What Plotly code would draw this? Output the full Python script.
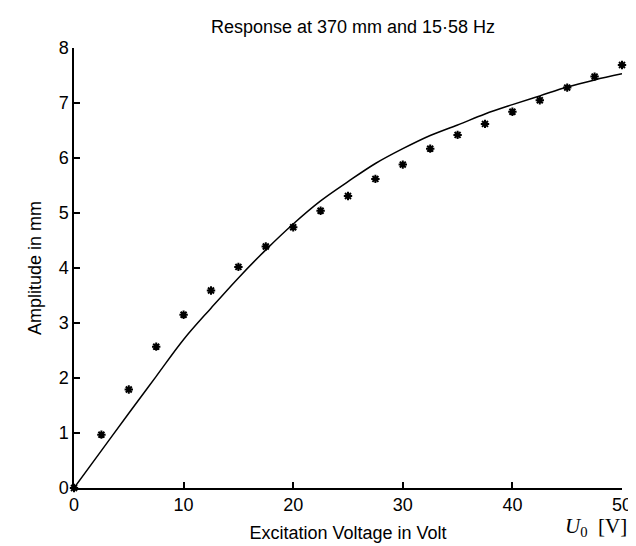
import plotly.graph_objects as go

# Measured points (asterisks)
meas_x = [0, 2.5, 5, 7.5, 10, 12.5, 15, 17.5, 20, 22.5, 25, 27.5, 30, 32.5, 35,
          37.5, 40, 42.5, 45, 47.5, 50]
meas_y = [0, 0.97, 1.79, 2.57, 3.15, 3.59, 4.02, 4.39, 4.74, 5.04, 5.31, 5.62,
          5.88, 6.17, 6.42, 6.62, 6.84, 7.05, 7.28, 7.48, 7.69]

# Model curve (solid line)
curve_x = [0, 2.5, 5, 7.5, 10, 12.5, 15, 17.5, 20, 22.5, 25, 27.5, 30, 32.5, 35,
           37.5, 40, 42.5, 45, 47.5, 50]
curve_y = [0, 0.68, 1.36, 2.03, 2.70, 3.27, 3.82, 4.33, 4.80, 5.22, 5.57, 5.90,
           6.17, 6.41, 6.60, 6.80, 6.97, 7.13, 7.29, 7.42, 7.53]

x_ticks = [0, 10, 20, 30, 40, 50]
y_ticks = [0, 1, 2, 3, 4, 5, 6, 7, 8]

FONT = "Liberation Sans, Arial, sans-serif"
FS = 18

fig = go.Figure()
fig.add_trace(go.Scatter(x=curve_x, y=curve_y, mode="lines",
                         line=dict(color="black", width=1.5, shape="spline"),
                         showlegend=False, cliponaxis=False))
fig.add_trace(go.Scatter(x=meas_x, y=meas_y, mode="markers",
                         marker=dict(symbol="asterisk", size=7, color="black",
                                     line=dict(color="black", width=2)),
                         showlegend=False, cliponaxis=False))

fig.update_layout(
    width=636, height=546,
    margin=dict(l=66, r=12, t=40, b=66),
    paper_bgcolor="white", plot_bgcolor="white",
    font=dict(family=FONT, size=FS, color="black"),
    title=dict(text="Response at 370 mm and 15·58 Hz", x=(66 + 624) / 2 / 636,
               xanchor="center", y=1 - 19 / 546, yanchor="middle",
               font=dict(family=FONT, size=FS, color="black")),
    xaxis=dict(range=[0, 50], tickvals=x_ticks, showgrid=False, zeroline=False,
               showline=True, linecolor="black", linewidth=1.5,
               ticks="inside", ticklen=6, tickwidth=1.5, tickcolor="black",
               title=dict(text="Excitation Voltage in Volt", standoff=12,
                          font=dict(family=FONT, size=FS))),
    yaxis=dict(range=[0, 8], tickvals=y_ticks, showgrid=False, zeroline=False,
               showline=True, linecolor="black", linewidth=1.5,
               ticks="inside", ticklen=6, tickwidth=1.5, tickcolor="black",
               title=dict(text="Amplitude in mm", standoff=12,
                          font=dict(family=FONT, size=FS))),
    annotations=[dict(text="<i>U</i><sub>0</sub>&nbsp; [V]", xref="paper", yref="paper",
                      x=1.012, y=-54 / 440, xanchor="right", yanchor="bottom",
                      showarrow=False,
                      font=dict(family="Liberation Serif, Times New Roman, serif",
                                size=21, color="black"))],
)

fig.write_html("out.html")
